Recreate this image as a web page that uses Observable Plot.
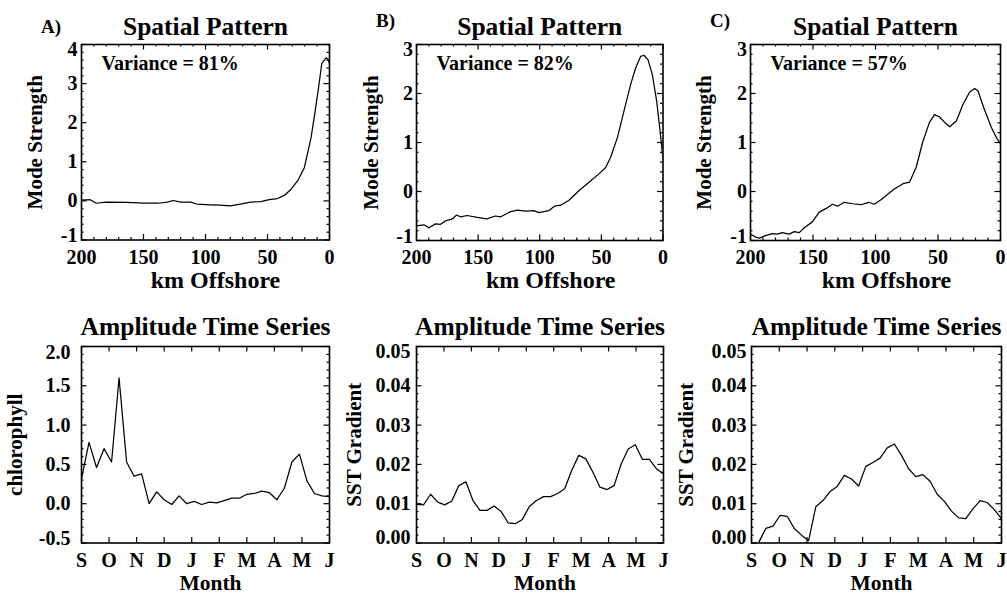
<!DOCTYPE html>
<html><head><meta charset="utf-8">
<script src="https://cdn.jsdelivr.net/npm/d3@7"></script>
<script src="https://cdn.jsdelivr.net/npm/@observablehq/plot@0.6"></script>
<style>
body{margin:0;background:#fff;}
#wrap{position:relative;width:1007px;height:594px;overflow:hidden;background:#fff;}
#wrap svg{position:absolute;}
</style></head><body><div id="wrap"></div>
<script>
// ---- data ----
const kmA = [200,193,188,180,163.5,150,138,131,126,120,112,107,96,88,80,72,63.5,55.4,48.6,42,36.5,31,25.7,20.3,14.9,11.6,8.9,6.2,2.7,1.4,0];
const modeA = [0.02,0.03,-0.06,-0.03,-0.04,-0.06,-0.06,-0.03,0.01,-0.03,-0.03,-0.08,-0.1,-0.11,-0.13,-0.08,-0.03,-0.02,0.03,0.06,0.14,0.3,0.51,0.85,1.61,2.29,2.88,3.52,3.66,3.63,3.52];
const kmB = [200,194,190,184.6,180.5,176.5,171,167.5,164,159,150.7,143,136,132,123.7,118,111.5,104.7,100.7,92.6,88,83,76.3,68,60,52,46.5,42.5,37,31.7,26.3,22.2,18.1,15.4,12.2,8.7,5.1,2.4,0];
const modeB = [-0.70,-0.68,-0.74,-0.66,-0.67,-0.60,-0.56,-0.48,-0.52,-0.49,-0.53,-0.56,-0.50,-0.52,-0.41,-0.38,-0.40,-0.39,-0.43,-0.39,-0.30,-0.28,-0.18,0.02,0.19,0.36,0.49,0.70,1.10,1.64,2.18,2.52,2.76,2.78,2.69,2.39,1.84,1.24,0.65];
const kmC = [200,196,192.8,188,182.6,178.6,174.6,169,165,161,157,150.5,145,139.8,134.4,130.4,125,118.3,111.6,105.5,101,95.6,90,85,78,72.8,67.5,62,56.8,52.7,48.7,44.7,40.7,35.3,30,24.6,20.6,18,13.4,7.2,3.2,0];
const modeC = [-0.87,-0.93,-0.95,-0.90,-0.86,-0.87,-0.84,-0.87,-0.82,-0.84,-0.74,-0.62,-0.42,-0.35,-0.26,-0.30,-0.22,-0.25,-0.27,-0.22,-0.26,-0.17,-0.05,0.05,0.16,0.19,0.49,1.03,1.41,1.57,1.52,1.41,1.32,1.44,1.78,2.03,2.10,2.05,1.71,1.30,1.10,0.97];
const chlA = [0.32,0.78,0.46,0.70,0.53,1.60,0.53,0.35,0.38,0.00,0.15,0.05,-0.01,0.10,0.00,0.03,-0.01,0.02,0.01,0.04,0.07,0.07,0.12,0.13,0.16,0.14,0.05,0.20,0.53,0.63,0.29,0.13,0.10,0.09];
const sstB = [0.0098,0.0097,0.0124,0.0104,0.0097,0.0107,0.0146,0.0156,0.0108,0.0083,0.0083,0.0094,0.0080,0.0051,0.0049,0.0060,0.0093,0.0108,0.0118,0.0118,0.0126,0.0138,0.0185,0.0223,0.0214,0.0180,0.0142,0.0136,0.0146,0.0201,0.0239,0.0250,0.0213,0.0213,0.0189,0.0176];
const sstC = [-0.002,0.0001,0.0037,0.0043,0.0070,0.0068,0.0037,0.0020,0.0006,0.0092,0.0108,0.0131,0.0144,0.0172,0.0163,0.0145,0.0195,0.0205,0.0216,0.0242,0.0252,0.0223,0.0189,0.0169,0.0174,0.0157,0.0124,0.0106,0.0081,0.0064,0.0062,0.0087,0.0108,0.0103,0.0085,0.0062];
const monthLabels = ["S","O","N","D","J","F","M","A","M","J"];
const kmTicks = [200,150,100,50,0];
const modeTicksA = [-1,0,1,2,3,4];
const modeTicksBC = [-1,0,1,2,3];
const chlTicks = [-0.5,0.0,0.5,1.0,1.5,2.0];
const sstTicks = [0.00,0.01,0.02,0.03,0.04,0.05];
const variances = ["Variance = 81%","Variance = 82%","Variance = 57%"];

// ---- helpers ----
const FONT = "'Liberation Serif','Times New Roman',Times,serif";
const spatial = (km, v) => km.map((k, i) => ({x: k, y: v[i]}));
const series = (v) => v.map((d, i) => ({x: i * 9 / (v.length - 1), y: d}));
const minorOf = (lo, hi, step, major) =>
  d3.range(Math.round((hi - lo) / step) + 1).map(i => lo + i * step)
    .filter(t => !major.some(m => Math.abs(m - t) < step / 10));
const monthIdx = d3.range(10);

const panels = [
  {left: 80.5, top: 44, w: 248, h: 195.5, svgTop: 0, data: spatial(kmA, modeA),
   xDomain: [200, 0], yDomain: [-1, 4], xTicks: kmTicks, xMinor: minorOf(0, 200, 10, kmTicks),
   yTicks: modeTicksA, yMinor: minorOf(-1, 4, 0.2, modeTicksA), xFormat: d => String(d), yFormat: d => String(d),
   xPad: 9.5, xFont: 20, yPad: 4, yTopDy: 5, yBotDy: -4, title: "Spatial Pattern", titleDy: -10, letter: "A)", letterDy: -12,
   variance: variances[0], xLabel: "km Offshore", xLabelDx: 10, xLabelDy: 47.5, xLabelFont: 24,
   yLabel: "Mode Strength", yLabelDx: -46},
  {left: 415.5, top: 44, w: 246.5, h: 196, svgTop: 0, data: spatial(kmB, modeB),
   xDomain: [200, 0], yDomain: [-1, 3], xTicks: kmTicks, xMinor: minorOf(0, 200, 10, kmTicks),
   yTicks: modeTicksBC, yMinor: minorOf(-1, 3, 0.2, modeTicksBC), xFormat: d => String(d), yFormat: d => String(d),
   xPad: 9.5, xFont: 20, yPad: 3.5, yTopDy: 5, yBotDy: -4, title: "Spatial Pattern", titleDy: -10, letter: "B)", letterDy: -18,
   variance: variances[1], xLabel: "km Offshore", xLabelDx: 11, xLabelDy: 47.5, xLabelFont: 24,
   yLabel: "Mode Strength", yLabelDx: -45.5},
  {left: 750, top: 44, w: 250, h: 196, svgTop: 0, data: spatial(kmC, modeC),
   xDomain: [200, 0], yDomain: [-1, 3], xTicks: kmTicks, xMinor: minorOf(0, 200, 10, kmTicks),
   yTicks: modeTicksBC, yMinor: minorOf(-1, 3, 0.2, modeTicksBC), xFormat: d => String(d), yFormat: d => String(d),
   xPad: 9.5, xFont: 20, yPad: 3.5, yTopDy: 5, yBotDy: -4, title: "Spatial Pattern", titleDy: -10, letter: "C)", letterDy: -18,
   variance: variances[2], xLabel: "km Offshore", xLabelDx: 11, xLabelDy: 47.5, xLabelFont: 24,
   yLabel: "Mode Strength", yLabelDx: -46.5},
  {left: 80.5, top: 346, w: 248, h: 196.5, svgTop: 300, data: series(chlA),
   xDomain: [0, 9], yDomain: [-0.5, 2.0], xTicks: monthIdx, xMinor: [],
   yTicks: chlTicks, yMinor: minorOf(-0.5, 2.0, 0.1, chlTicks), xFormat: i => monthLabels[i], yFormat: d => d.toFixed(1),
   xPad: 9.8, xFont: 20, yPad: 11, yTopDy: 6, yBotDy: -4, title: "Amplitude Time Series", titleDy: -11.5, letter: null,
   variance: null, xLabel: "Month", xLabelDx: 5, xLabelDy: 47, xLabelFont: 21.5,
   yLabel: "chlorophyll", yLabelDx: -66},
  {left: 415.5, top: 346, w: 247, h: 196.5, svgTop: 300, data: series(sstB),
   xDomain: [0, 9], yDomain: [0, 0.05], xTicks: monthIdx, xMinor: [],
   yTicks: sstTicks, yMinor: minorOf(0, 0.05, 0.002, sstTicks), xFormat: i => monthLabels[i], yFormat: d => d.toFixed(2),
   xPad: 9.8, xFont: 20, yPad: 6, yTopDy: 5.5, yBotDy: -5.5, title: "Amplitude Time Series", titleDy: -11.5, letter: null,
   variance: null, xLabel: "Month", xLabelDx: 5, xLabelDy: 47, xLabelFont: 21.5,
   yLabel: "SST Gradient", yLabelDx: -62.5},
  {left: 750.5, top: 346, w: 250, h: 196.5, svgTop: 300, data: series(sstC),
   xDomain: [0, 9], yDomain: [0, 0.05], xTicks: monthIdx, xMinor: [],
   yTicks: sstTicks, yMinor: minorOf(0, 0.05, 0.002, sstTicks), xFormat: i => monthLabels[i], yFormat: d => d.toFixed(2),
   xPad: 9.8, xFont: 20, yPad: 5, yTopDy: 5.5, yBotDy: -5.5, title: "Amplitude Time Series", titleDy: -11.5, letter: null,
   variance: null, xLabel: "Month", xLabelDx: 5, xLabelDy: 47, xLabelFont: 21.5,
   yLabel: "SST Gradient", yLabelDx: -65}
];

const wrap = document.getElementById("wrap");
for (const p of panels) {
  const mL = 80, mR = 6, mB = 52;
  const mT = p.top - p.svgTop;
  const width = mL + p.w + mR;
  const height = mT + p.h + mB;
  const T = 5.5, M = 2.5;
  const tk = {stroke: "black", strokeWidth: 1.2};
  const yLo = p.yTicks[0], yHi = p.yTicks[p.yTicks.length - 1];
  const yMid = p.yTicks.slice(1, -1);
  const yAx = {tickSize: 0, tickPadding: p.yPad, tickFormat: p.yFormat, fontSize: 20, label: null};
  const marks = [
    Plot.line(p.data, {x: "x", y: "y", stroke: "black", strokeWidth: 1.25, clip: true}),
    Plot.tickX(p.xTicks, {x: d => d, insetTop: p.h - T, ...tk}),
    Plot.tickX(p.xTicks, {x: d => d, insetBottom: p.h - T, ...tk}),
    Plot.tickX(p.xMinor, {x: d => d, insetTop: p.h - M, ...tk}),
    Plot.tickX(p.xMinor, {x: d => d, insetBottom: p.h - M, ...tk}),
    Plot.tickY(p.yTicks, {y: d => d, insetRight: p.w - T, ...tk}),
    Plot.tickY(p.yTicks, {y: d => d, insetLeft: p.w - T, ...tk}),
    Plot.tickY(p.yMinor, {y: d => d, insetRight: p.w - M, ...tk}),
    Plot.tickY(p.yMinor, {y: d => d, insetLeft: p.w - M, ...tk}),
    Plot.frame({stroke: "black", strokeWidth: 1.6}),
    Plot.axisX(p.xTicks, {tickSize: 0, tickPadding: p.xPad, tickFormat: p.xFormat, fontSize: p.xFont, label: null}),
    Plot.axisY(yMid, yAx),
    Plot.axisY([yHi], {...yAx, dy: p.yTopDy}),
    Plot.axisY([yLo], {...yAx, dy: p.yBotDy}),
    Plot.text([p.title], {frameAnchor: "top", dy: p.titleDy, lineAnchor: "bottom", fontSize: 25.5}),
    Plot.text([p.xLabel], {frameAnchor: "bottom", dx: p.xLabelDx, dy: p.xLabelDy, lineAnchor: "bottom", fontSize: p.xLabelFont}),
    Plot.text([p.yLabel], {frameAnchor: "left", dx: p.yLabelDx, rotate: -90, lineAnchor: "middle", textAnchor: "middle", fontSize: 21})
  ];
  if (p.letter) marks.push(Plot.text([p.letter], {frameAnchor: "top-left", dx: -40.5, dy: p.letterDy, textAnchor: "start", lineAnchor: "bottom", fontSize: 19}));
  if (p.variance) marks.push(Plot.text([p.variance], {frameAnchor: "top-left", dx: 20, dy: 25, textAnchor: "start", lineAnchor: "bottom", fontSize: 20}));
  const svg = Plot.plot({
    width, height, marginLeft: mL, marginRight: mR, marginTop: mT, marginBottom: mB,
    x: {domain: p.xDomain}, y: {domain: p.yDomain},
    style: {fontFamily: FONT, fontWeight: "bold", fontSize: "20px", color: "black", background: "transparent", overflow: "visible", maxWidth: "none"},
    marks
  });
  svg.style.position = "absolute";
  svg.style.left = (p.left - mL) + "px";
  svg.style.top = p.svgTop + "px";
  wrap.appendChild(svg);
}
</script></body></html>
